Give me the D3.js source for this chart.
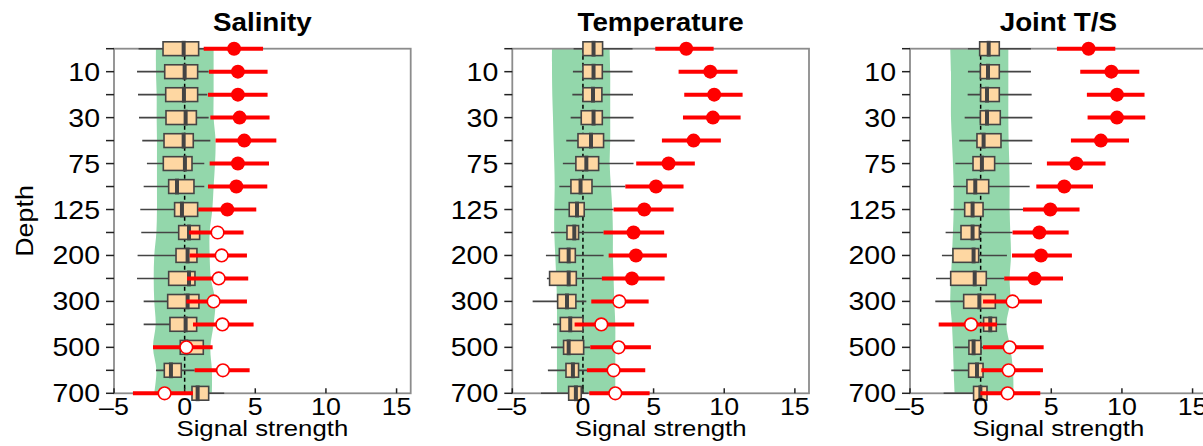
<!DOCTYPE html>
<html>
<head>
<meta charset="utf-8">
<script src="https://cdn.jsdelivr.net/npm/d3@7"></script>
<style>
  body { margin: 0; background: #fff; }
  svg { display: block; }
</style>
</head>
<body>
<svg id="chart" width="1203" height="446"></svg>
<script>
// Depth levels (m), top to bottom
const depths = [5, 10, 20, 30, 50, 75, 100, 125, 150, 200, 250, 300, 400, 500, 600, 700];
const labelledDepths = [10, 30, 75, 125, 200, 300, 500, 700];
const xTicks = [-5, 0, 5, 10, 15];
const panelTitles = ["Salinity", "Temperature", "Joint T/S"];

// Noise distribution per depth: [whisker low, q1, median, q3, whisker high]
const salBox = [
  [-3.26, -1.53, -0.07, 0.99, 1.6], [-3.37, -1.41, 0.0, 0.92, 1.7], [-3.30, -1.34, -0.05, 0.92, 1.6],
  [-3.23, -1.32, 0.07, 0.83, 1.7], [-3.0, -1.46, -0.07, 0.61, 1.82], [-2.67, -1.51, 0.02, 0.52, 1.39],
  [-2.90, -1.13, -0.54, 0.66, 1.39], [-3.14, -0.71, -0.19, 0.92, 1.5], [-3.07, -0.42, 0.31, 1.06, 1.6],
  [-3.33, -0.61, 0.21, 0.87, 1.6], [-3.37, -1.13, 0.31, 0.73, 1.5], [-2.90, -1.20, 0.21, 1.01, 1.8],
  [-2.90, -1.04, 0.07, 0.85, 1.5], [-0.8, -0.31, 0.12, 1.32, 1.7], [-2.03, -1.44, -0.97, -0.24, 0.71],
  [-0.3, 0.52, 0.92, 1.70, 2.8]
];
const tempBox = [
  [-0.66, 0.0, 0.75, 1.39, 3.51], [-0.71, 0.0, 0.75, 1.37, 3.51], [-0.75, 0.0, 0.71, 1.34, 3.54],
  [-0.87, -0.12, 0.75, 1.37, 3.58], [-1.18, -0.35, 0.57, 1.46, 3.66], [-1.42, -0.5, 0.24, 1.11, 3.58],
  [-1.67, -0.85, -0.17, 0.64, 3.0], [-2.0, -0.97, -0.42, 0.09, 2.17], [-2.26, -1.13, -0.61, -0.31, 1.46],
  [-2.62, -1.67, -1.01, -0.54, 1.46], [-2.55, -2.36, -1.01, -0.47, 1.34], [-3.56, -1.79, -1.13, -0.5, 0.24],
  [-2.12, -1.6, -0.9, 0.0, 0.6], [-2.26, -1.37, -1.01, 0.05, 0.5], [-2.48, -1.2, -0.71, -0.31, 0.3],
  [-2.97, -1.01, -0.5, -0.12, 0.4]
];
const jointBox = [
  [-0.9, -0.07, 0.57, 1.32, 3.56], [-0.9, -0.02, 0.52, 1.32, 3.56], [-0.92, 0.0, 0.45, 1.32, 3.61],
  [-1.13, -0.02, 0.45, 1.39, 3.66], [-1.51, -0.26, 0.21, 1.44, 3.66], [-1.79, -0.54, 0.09, 0.99, 3.63],
  [-1.96, -0.97, -0.38, 0.57, 3.47], [-2.12, -1.13, -0.57, 0.17, 3.0], [-2.48, -1.39, -0.57, -0.09, 2.26],
  [-2.74, -1.96, -0.5, -0.14, 1.86], [-3.16, -2.12, -0.42, 0.40, 1.67], [-3.21, -1.2, -0.09, 1.04, 1.5],
  [-0.2, 0.21, 0.68, 1.11, 1.82], [-1.84, -0.83, -0.5, 0.02, 0.4], [-2.08, -0.85, -0.26, 0.17, 0.5],
  [-2.62, -0.5, -0.02, 0.45, 0.9]
];

// Signal estimate per depth: [low, estimate, high]
const salSignal = [
  [1.35, 3.5, 5.55], [1.72, 3.77, 5.87], [1.65, 3.77, 5.87], [1.82, 3.89, 6.01], [2.19, 4.22, 6.49],
  [1.77, 3.77, 5.97], [1.65, 3.66, 5.85], [0.97, 3.02, 5.07], [0.31, 2.33, 4.17], [0.35, 2.62, 4.41],
  [0.17, 2.41, 4.50], [0.12, 2.05, 4.41], [0.59, 2.67, 4.88], [-2.24, 0.12, 1.98], [0.71, 2.71, 4.60],
  [-3.66, -1.42, 0.59]
];
const tempSignal = [
  [5.12, 7.31, 9.25], [6.77, 9.01, 10.94], [7.17, 9.29, 11.3], [7.08, 9.2, 11.16], [5.59, 7.83, 9.76],
  [3.77, 6.06, 7.92], [3.0, 5.17, 7.12], [2.17, 4.34, 6.42], [1.46, 3.58, 5.75], [1.82, 3.75, 5.94],
  [1.34, 3.47, 5.78], [0.59, 2.57, 4.65], [-0.59, 1.30, 3.63], [0.52, 2.52, 4.81], [0.28, 2.17, 4.41],
  [0.45, 2.29, 4.72]
];
const jointSignal = [
  [5.4, 7.64, 9.53], [7.05, 9.25, 11.23], [7.52, 9.65, 11.6], [7.57, 9.65, 11.65], [6.39, 8.51, 10.5],
  [4.69, 6.77, 8.84], [3.94, 5.92, 7.95], [3.0, 4.93, 7.0], [2.26, 4.15, 6.23], [2.22, 4.27, 6.46],
  [1.67, 3.82, 5.83], [0.17, 2.26, 4.34], [-2.97, -0.68, 1.16], [0.17, 2.05, 4.46], [0.05, 1.98, 4.41],
  [-0.02, 1.91, 4.22]
];

// Whether the signal is detected at each depth
const salSignificant   = [1,1,1,1,1,1,1,1,0,0,0,0,0,0,0,0];
const tempSignificant  = [1,1,1,1,1,1,1,1,1,1,1,0,0,0,0,0];
const jointSignificant = [1,1,1,1,1,1,1,1,1,1,1,0,0,0,0,0];

// Noise envelope per depth: [low, high]
const salNoise = [
  [-2.03, 2.05], [-2.03, 2.05], [-1.98, 2.05], [-1.98, 2.05], [-1.96, 2.19], [-1.96, 2.15],
  [-1.96, 2.05], [-1.96, 1.96], [-2.0, 1.77], [-2.15, 1.77], [-2.19, 1.86], [-2.15, 2.17],
  [-2.05, 2.05], [-2.24, 1.82], [-2.0, 1.93], [-2.15, 1.93]
];
const tempNoise = [
  [-2.19, 1.89], [-2.19, 1.93], [-2.17, 1.93], [-2.12, 1.93], [-2.08, 1.93], [-2.03, 1.89],
  [-2.0, 1.98], [-2.03, 2.08], [-2.03, 2.12], [-1.96, 2.12], [-1.89, 2.17], [-1.84, 2.22],
  [-1.84, 2.29], [-1.84, 2.29], [-1.84, 2.29], [-1.84, 2.29]
];
const jointNoise = [
  [-2.15, 1.96], [-2.10, 1.96], [-2.10, 1.96], [-2.10, 1.96], [-2.03, 1.98], [-1.96, 2.03],
  [-1.91, 2.05], [-1.91, 2.05], [-1.96, 2.10], [-2.03, 2.15], [-2.10, 2.05], [-2.15, 2.10],
  [-2.03, 1.82], [-1.96, 2.10], [-1.91, 2.29], [-1.84, 2.33]
];

const panels = [
  { title: panelTitles[0], box: salBox, signal: salSignal, sig: salSignificant, noise: salNoise },
  { title: panelTitles[1], box: tempBox, signal: tempSignal, sig: tempSignificant, noise: tempNoise },
  { title: panelTitles[2], box: jointBox, signal: jointSignal, sig: jointSignificant, noise: jointNoise }
];

// Layout
const panelLeft = [114, 512.3, 910];
const panelWidth = 296.7;
const plotTop = 48.7, plotBottom = 393.3;
const FONT = "'Liberation Sans', Arial, Helvetica, sans-serif";

const colors = {
  band: "#93d7ab",
  boxFill: "#fed7a2",
  boxStroke: "#444444",
  signal: "#ff0000",
  spine: "#8c8c8c",
  tick: "#222222"
};

const svg = d3.select("#chart");

// Text with a slight horizontal stretch, anchored at (x, y)
function stretchedText(parent, x, y, str, opts) {
  const g = parent.append("g")
    .attr("transform", `translate(${x},${y}) ${opts.rotate ? `rotate(${opts.rotate})` : ""} scale(${opts.sx || 1},1)`);
  g.append("text")
    .attr("x", 0).attr("y", 0)
    .attr("text-anchor", opts.anchor || "middle")
    .attr("font-family", FONT)
    .attr("font-size", opts.size)
    .attr("font-weight", opts.weight || "normal")
    .attr("fill", "#000")
    .text(str);
  return g;
}

const y = d3.scalePoint().domain(depths).range([plotTop, plotBottom]).padding(0);
const boxH = y.step() * 0.6;

panels.forEach((p, pi) => {
  const x0 = panelLeft[pi];
  const x = d3.scaleLinear().domain([-5, 16]).range([x0, x0 + panelWidth]);
  const g = svg.append("g");

  // Noise envelope
  const area = d3.area()
    .y((d, i) => y(depths[i]))
    .x0(d => x(d[0]))
    .x1(d => x(d[1]))
    .curve(d3.curveCatmullRom.alpha(0.5));
  g.append("path")
    .datum(p.noise)
    .attr("d", area)
    .attr("fill", colors.band)
    .attr("stroke", "none");

  // Zero reference
  g.append("line")
    .attr("x1", x(0)).attr("x2", x(0))
    .attr("y1", plotTop).attr("y2", plotBottom)
    .attr("stroke", "#000")
    .attr("stroke-width", 1.5)
    .attr("stroke-dasharray", "4,3");

  // Frame
  g.append("rect")
    .attr("x", x(-5)).attr("y", plotTop)
    .attr("width", x(16) - x(-5)).attr("height", plotBottom - plotTop)
    .attr("fill", "none")
    .attr("stroke", colors.spine)
    .attr("stroke-width", 1.8);

  // Y ticks on every depth
  g.selectAll(".ytick").data(depths).join("line")
    .attr("x1", x(-5) - 8).attr("x2", x(-5))
    .attr("y1", d => y(d)).attr("y2", d => y(d))
    .attr("stroke", colors.tick).attr("stroke-width", 1.5);

  // X ticks, pointing inward
  g.selectAll(".xtick").data(xTicks).join("line")
    .attr("x1", d => x(d)).attr("x2", d => x(d))
    .attr("y1", plotBottom).attr("y2", plotBottom - 5)
    .attr("stroke", colors.tick).attr("stroke-width", 1.5);

  // Box plots of the noise distribution
  const rows = p.box.map((b, i) => ({ b, depth: depths[i] }));
  g.selectAll(".whisk").data(rows).join("line")
    .attr("x1", d => x(d.b[0])).attr("x2", d => x(d.b[4]))
    .attr("y1", d => y(d.depth)).attr("y2", d => y(d.depth))
    .attr("stroke", colors.boxStroke).attr("stroke-width", 1.6);
  g.selectAll(".box").data(rows).join("rect")
    .attr("x", d => x(d.b[1]))
    .attr("y", d => y(d.depth) - boxH / 2)
    .attr("width", d => x(d.b[3]) - x(d.b[1]))
    .attr("height", boxH)
    .attr("fill", colors.boxFill)
    .attr("stroke", colors.boxStroke)
    .attr("stroke-width", 1.6);
  g.selectAll(".med").data(rows).join("line")
    .attr("x1", d => x(d.b[2])).attr("x2", d => x(d.b[2]))
    .attr("y1", d => y(d.depth) - boxH / 2 - 1).attr("y2", d => y(d.depth) + boxH / 2 + 1)
    .attr("stroke", colors.boxStroke).attr("stroke-width", 4);

  // Signal estimates with ranges
  const sigRows = p.signal.map((s, i) => ({ s, depth: depths[i], filled: p.sig[i] === 1 }));
  g.selectAll(".srange").data(sigRows).join("line")
    .attr("x1", d => x(d.s[0])).attr("x2", d => x(d.s[2]))
    .attr("y1", d => y(d.depth)).attr("y2", d => y(d.depth))
    .attr("stroke", colors.signal).attr("stroke-width", 4);
  g.selectAll(".sdot").data(sigRows).join("circle")
    .attr("cx", d => x(d.s[1]))
    .attr("cy", d => y(d.depth))
    .attr("r", d => d.filled ? 7 : 6.3)
    .attr("fill", d => d.filled ? colors.signal : "#fff")
    .attr("stroke", colors.signal)
    .attr("stroke-width", d => d.filled ? 0 : 1.6);

  // Y tick labels
  labelledDepths.forEach(dv => {
    stretchedText(g, x(-5) - 14, y(dv) + 9, String(dv), { anchor: "end", size: 25, sx: 1.14 });
  });

  // X tick labels (typographic minus)
  xTicks.forEach(t => {
    const s = t < 0 ? "\u2013" + Math.abs(t) : String(t);
    stretchedText(g, x(t), 415, s, { anchor: "middle", size: 23.5, sx: 1.14 });
  });

  // Axis title and panel title
  const cx = x0 + panelWidth / 2;
  stretchedText(g, cx, 436, "Signal strength", { anchor: "middle", size: 23, sx: 1.12 });
  stretchedText(g, cx, 31, p.title, { anchor: "middle", size: 26, weight: "bold", sx: 1.07 });

  if (pi === 0) {
    stretchedText(g, 32.5, (plotTop + plotBottom) / 2, "Depth", { anchor: "middle", size: 24, sx: 1.12, rotate: -90 });
  }
});
</script>
</body>
</html>
